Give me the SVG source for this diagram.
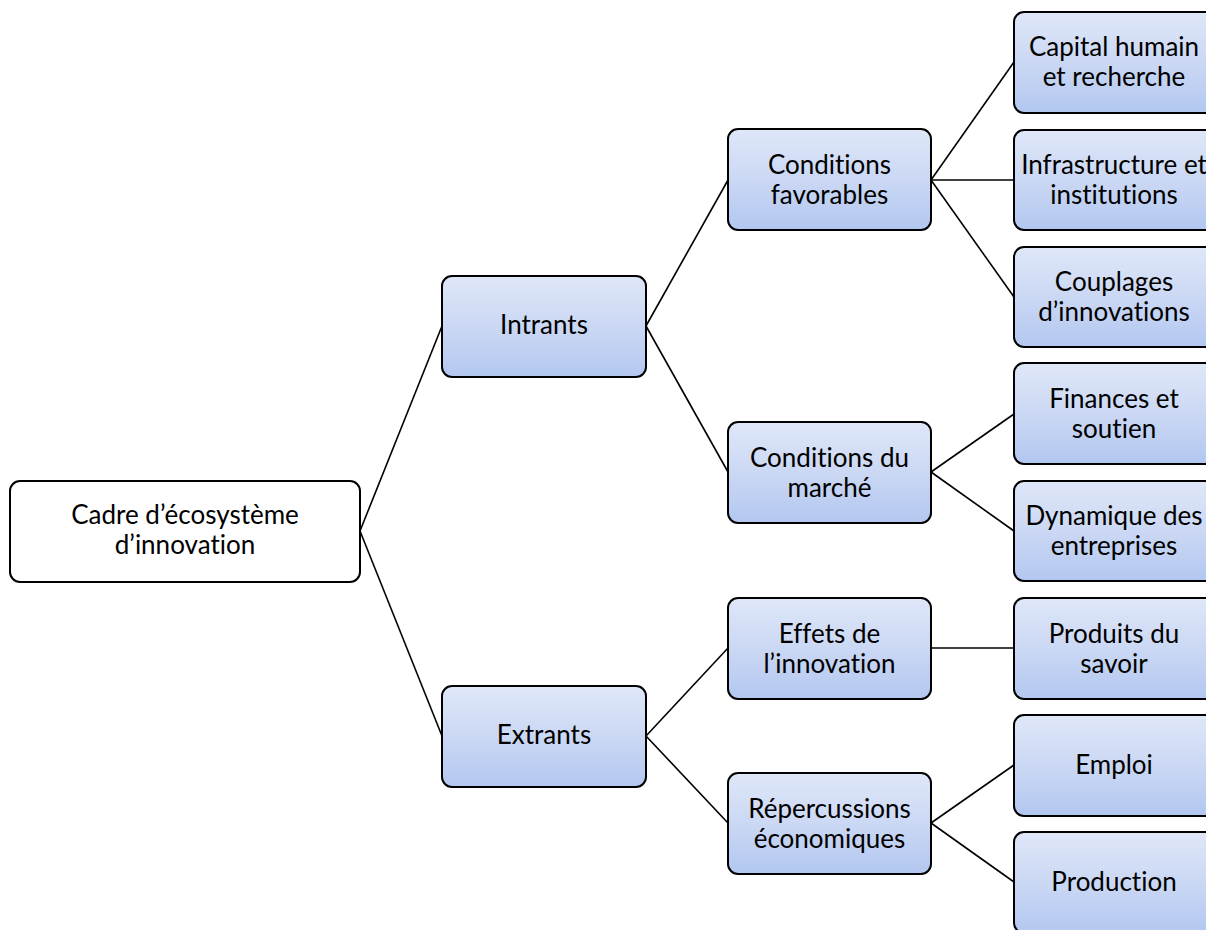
<svg xmlns="http://www.w3.org/2000/svg" width="1206" height="930" viewBox="0 0 1206 930">
<defs>
<linearGradient id="g" x1="0" y1="0" x2="0" y2="1">
<stop offset="0" stop-color="#dfe7f8"/>
<stop offset="0.5" stop-color="#cbd8f4"/>
<stop offset="1" stop-color="#b2c7f0"/>
</linearGradient>
<style>
.n rect{stroke:#000;stroke-width:2;fill:url(#g)}
.n.root rect{fill:#fff}
.n text{font-family:Lato,"Liberation Sans",sans-serif;font-size:26px;fill:#000;text-anchor:middle;font-variant-ligatures:none;font-feature-settings:"liga" 0}
#connectors line{stroke:#000;stroke-width:1.6}
</style>
</defs>
<rect width="1206" height="930" fill="#fff"/>
<g id="connectors">
<line x1="360" y1="531" x2="442" y2="326"/>
<line x1="360" y1="531" x2="442" y2="736"/>
<line x1="646" y1="326" x2="728" y2="180"/>
<line x1="646" y1="326" x2="728" y2="472"/>
<line x1="931" y1="180" x2="1014" y2="62"/>
<line x1="931" y1="180" x2="1014" y2="180"/>
<line x1="931" y1="180" x2="1014" y2="297"/>
<line x1="931" y1="472" x2="1014" y2="414"/>
<line x1="931" y1="472" x2="1014" y2="531"/>
<line x1="646" y1="736" x2="728" y2="648"/>
<line x1="646" y1="736" x2="728" y2="823"/>
<line x1="931" y1="648" x2="1014" y2="648"/>
<line x1="931" y1="823" x2="1014" y2="765"/>
<line x1="931" y1="823" x2="1014" y2="882"/>
</g>
<g id="root" class="n root"><rect x="10" y="481" width="350" height="101" rx="10"/><text x="185" y="524">Cadre d’écosystème</text><text x="185" y="554">d’innovation</text></g>
<g id="intrants" class="n"><rect x="442" y="276" width="204" height="101" rx="10"/><text x="544" y="334">Intrants</text></g>
<g id="extrants" class="n"><rect x="442" y="686" width="204" height="101" rx="10"/><text x="544" y="744">Extrants</text></g>
<g id="cond-fav" class="n"><rect x="728" y="129" width="203" height="101" rx="10"/><text x="829.5" y="173.5">Conditions</text><text x="829.5" y="203.5">favorables</text></g>
<g id="cond-marche" class="n"><rect x="728" y="422" width="203" height="101" rx="10"/><text x="829.5" y="466.5">Conditions du</text><text x="829.5" y="496.5">marché</text></g>
<g id="effets" class="n"><rect x="728" y="598" width="203" height="101" rx="10"/><text x="829.5" y="642.5">Effets de</text><text x="829.5" y="672.5">l’innovation</text></g>
<g id="repercussions" class="n"><rect x="728" y="773" width="203" height="101" rx="10"/><text x="829.5" y="817.5">Répercussions</text><text x="829.5" y="847.5">économiques</text></g>
<g id="capital" class="n"><rect x="1014" y="12" width="203" height="101" rx="10"/><text x="1114" y="56">Capital humain</text><text x="1114" y="86">et recherche</text></g>
<g id="infra" class="n"><rect x="1014" y="130" width="203" height="100" rx="10"/><text x="1114" y="173.5">Infrastructure et</text><text x="1114" y="203.5">institutions</text></g>
<g id="couplages" class="n"><rect x="1014" y="247" width="203" height="100" rx="10"/><text x="1114" y="290.5">Couplages</text><text x="1114" y="320.5">d’innovations</text></g>
<g id="finances" class="n"><rect x="1014" y="363" width="203" height="101" rx="10"/><text x="1114" y="407.5">Finances et</text><text x="1114" y="437.5">soutien</text></g>
<g id="dynamique" class="n"><rect x="1014" y="481" width="203" height="100" rx="10"/><text x="1114" y="524.5">Dynamique des</text><text x="1114" y="554.5">entreprises</text></g>
<g id="produits" class="n"><rect x="1014" y="598" width="203" height="101" rx="10"/><text x="1114" y="642.5">Produits du</text><text x="1114" y="672.5">savoir</text></g>
<g id="emploi" class="n"><rect x="1014" y="715" width="203" height="101" rx="10"/><text x="1114" y="774">Emploi</text></g>
<g id="production" class="n"><rect x="1014" y="832" width="203" height="101" rx="10"/><text x="1114" y="891">Production</text></g>
</svg>
